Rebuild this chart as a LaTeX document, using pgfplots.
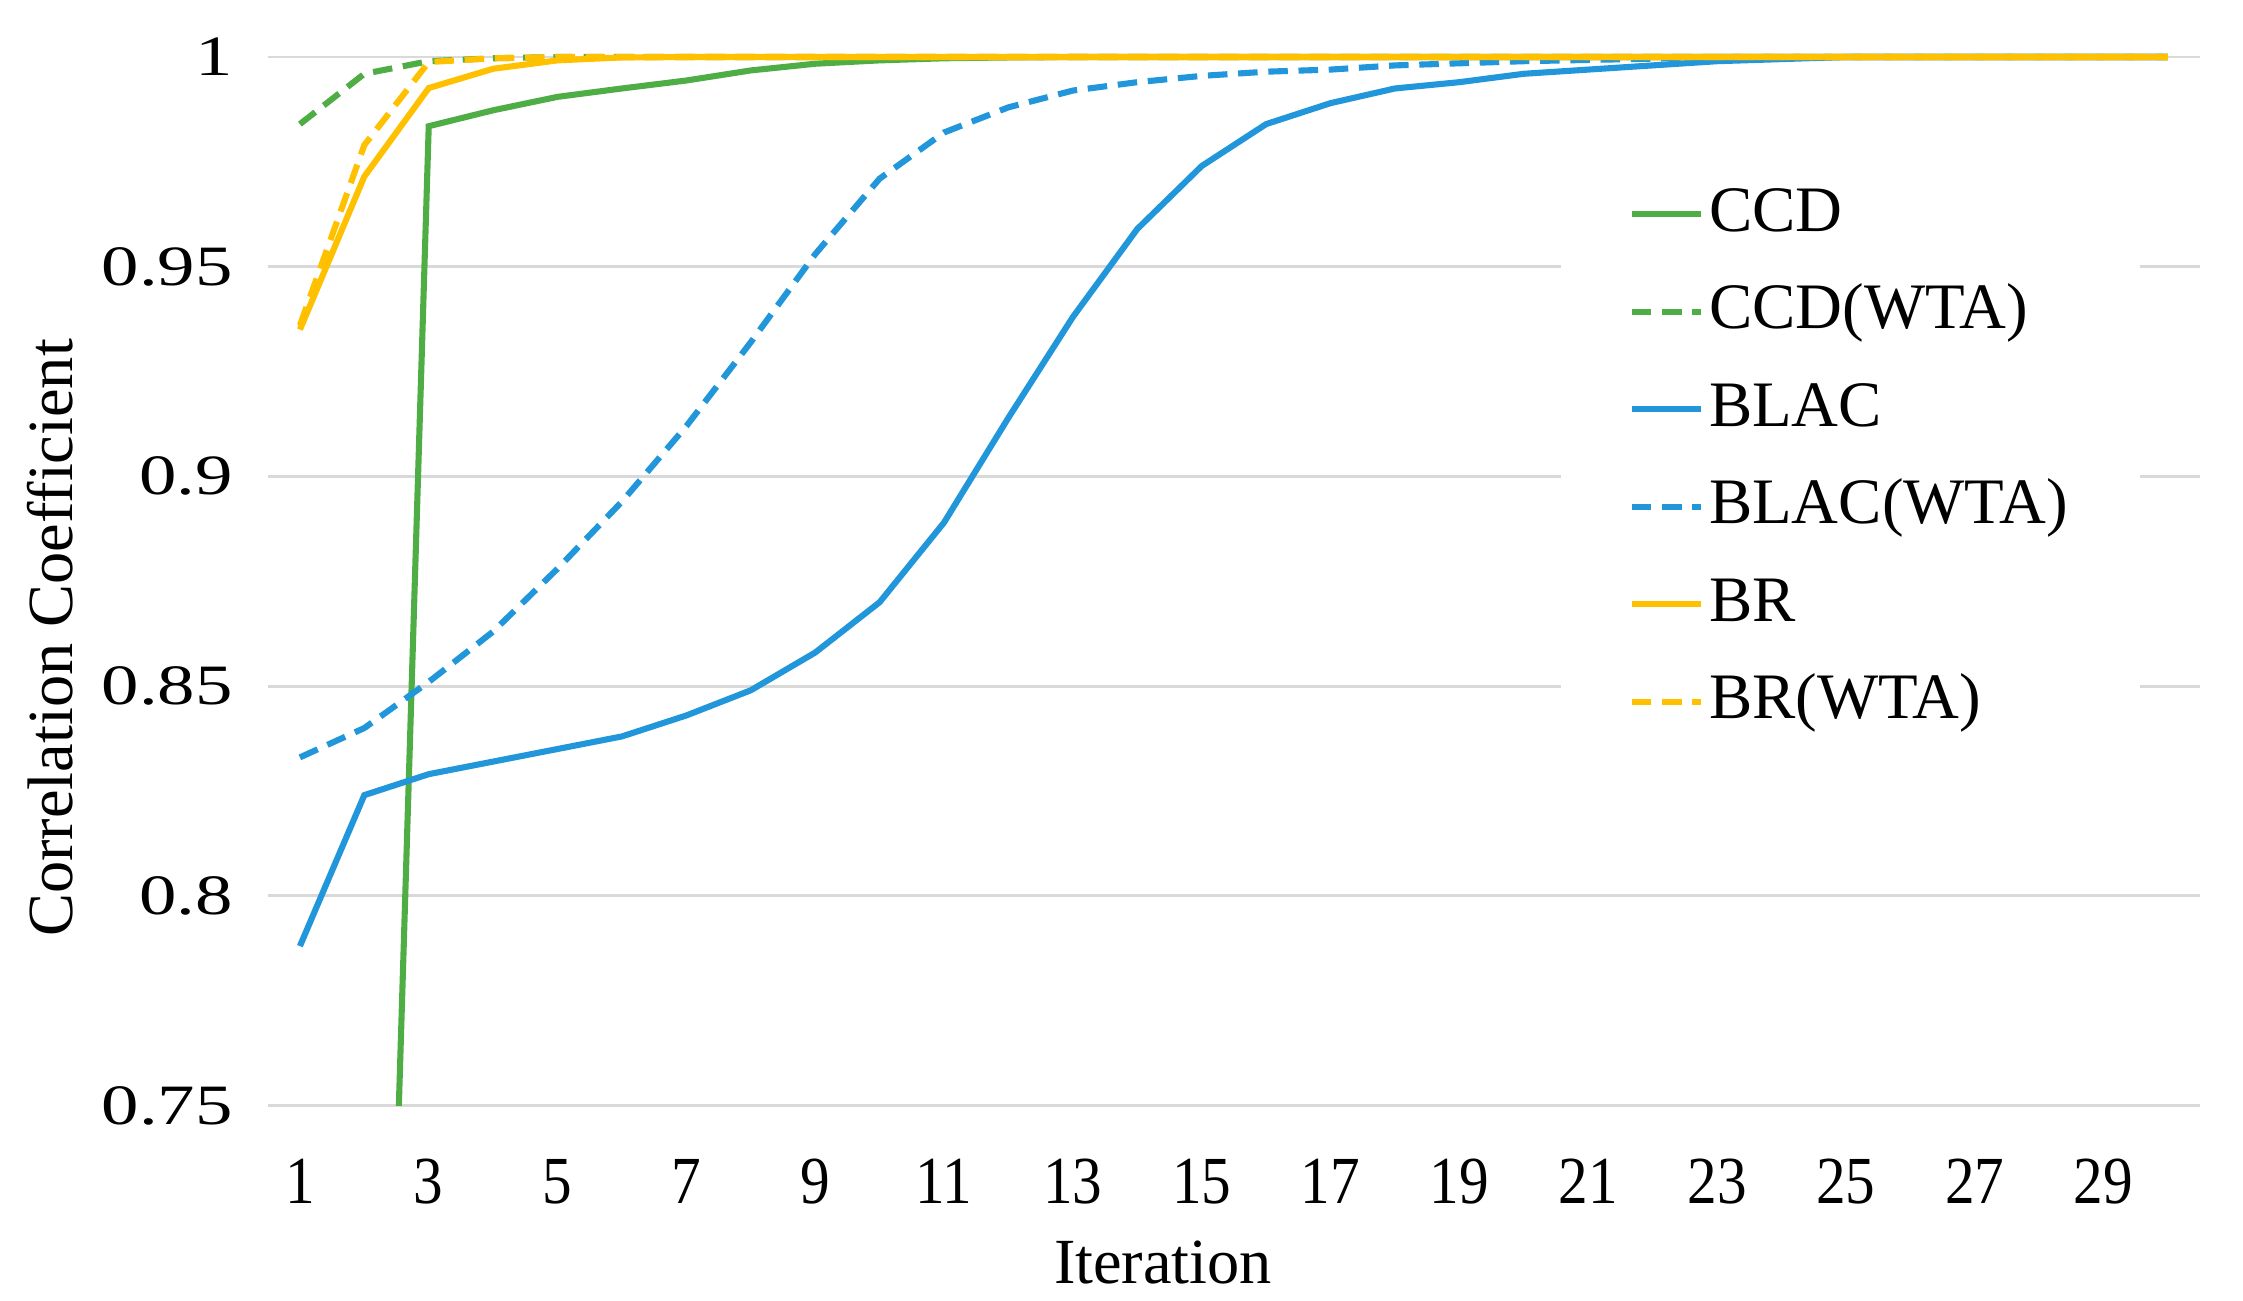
\documentclass[border=0pt]{standalone}
\usepackage{fontspec}
\setmainfont{Liberation Serif}
\usepackage{graphicx}
\usepackage{pgfplots}
\pgfplotsset{compat=1.18}
\definecolor{cgreen}{HTML}{4EAE45}
\definecolor{cblue}{HTML}{2196DA}
\definecolor{cyellow}{HTML}{FFC000}
\definecolor{cgrid}{HTML}{D9D9D9}

\pgfplotstableread{
x ccd ccdw blac blacw br brw
1 0.30 0.984 0.788 0.833 0.935 0.936
2 0.48 0.996 0.824 0.840 0.9715 0.979
3 0.9835 0.999 0.829 0.851 0.9926 0.9988
4 0.9873 0.9997 0.832 0.863 0.9972 0.9997
5 0.9905 1.0 0.835 0.878 0.9992 1.0
6 0.9925 1.0 0.838 0.894 0.9999 1.0
7 0.9944 1.0 0.843 0.912 1.0 1.0
8 0.9968 1.0 0.849 0.932 1.0 1.0
9 0.9984 1.0 0.858 0.953 1.0 1.0
10 0.9992 1.0 0.870 0.971 1.0 1.0
11 0.9997 1.0 0.889 0.982 1.0 1.0
12 0.9999 1.0 0.914 0.988 1.0 1.0
13 1.0 1.0 0.938 0.992 1.0 1.0
14 1.0 1.0 0.959 0.994 1.0 1.0
15 1.0 1.0 0.974 0.9955 1.0 1.0
16 1.0 1.0 0.984 0.9965 1.0 1.0
17 1.0 1.0 0.989 0.997 1.0 1.0
18 1.0 1.0 0.9925 0.998 1.0 1.0
19 1.0 1.0 0.994 0.9985 1.0 1.0
20 1.0 1.0 0.996 0.999 1.0 1.0
21 1.0 1.0 0.997 0.9993 1.0 1.0
22 1.0 1.0 0.998 0.9996 1.0 1.0
23 1.0 1.0 0.999 1.0 1.0 1.0
24 1.0 1.0 0.9995 1.0 1.0 1.0
25 1.0 1.0 1.0 1.0 1.0 1.0
26 1.0 1.0 1.0 1.0 1.0 1.0
27 1.0 1.0 1.0 1.0 1.0 1.0
28 1.0 1.0 1.0 1.0 1.0 1.0
29 1.0 1.0 1.0 1.0 1.0 1.0
30 1.0 1.0 1.0 1.0 1.0 1.0
}\datatable

\begin{document}
\begin{tikzpicture}
\begin{axis}[
  scale only axis,
  width=396.3pt, height=217.6pt,
  xmin=0.5, xmax=30.5, ymin=0.75, ymax=1.003,
  axis line style={draw=none},
  major tick length=0pt,
  xtick={1,3,...,29},
  ytick={0.75,0.8,0.85,0.9,0.95,1},
  ymajorgrids,
  grid style={cgrid, line width=0.6pt},
  /pgf/number format/assume math mode=true,
  xticklabel={\scalebox{0.88}[1]{\pgfmathprintnumber{\tick}}},
  yticklabel={\scalebox{1.18}[0.9]{\pgfmathprintnumber[fixed,precision=2]{\tick}}},
  xticklabel style={font=\fontsize{13.8}{15}\selectfont, anchor=base, inner sep=0pt, yshift=-20.2pt},
  yticklabel style={font=\fontsize{13}{15}\selectfont, anchor=east, inner sep=0pt, xshift=-7pt},
  xlabel={Iteration},
  ylabel={Correlation Coefficient},
  xlabel style={at={([yshift=-32.3pt]axis cs:14.4,0.75)}, anchor=center, font=\fontsize{13.2}{15}\selectfont},
  ylabel style={at={([xshift=-44.6pt]axis cs:0.5,0.8615)}, anchor=center, font=\fontsize{13.2}{15}\selectfont},
  legend cell align=left,
  legend image code/.code={\draw[#1] (0cm,0cm) -- (0.5cm,0cm);},
  legend style={at={(rel axis cs:0.669,0.8937)}, anchor=north west, draw=none, fill=white,
    inner xsep=13.8pt, inner ysep=4pt, font=\fontsize{13.3}{15}\selectfont,
    row sep=5pt, nodes={inner sep=1pt, text height=10pt, text depth=3pt}},
]
\addplot[cgreen, line width=1.25pt] table[x=x,y=ccd]{\datatable};
\addlegendentry{CCD}
\addplot[cgreen, line width=1.25pt, dash pattern=on 4pt off 2.2pt] table[x=x,y=ccdw]{\datatable};
\addlegendentry{CCD(WTA)}
\addplot[cblue, line width=1.25pt] table[x=x,y=blac]{\datatable};
\addlegendentry{BLAC}
\addplot[cblue, line width=1.25pt, dash pattern=on 4pt off 2.2pt] table[x=x,y=blacw]{\datatable};
\addlegendentry{BLAC(WTA)}
\addplot[cyellow, line width=1.25pt] table[x=x,y=br]{\datatable};
\addlegendentry{BR}
\addplot[cyellow, line width=1.25pt, dash pattern=on 4pt off 2.2pt] table[x=x,y=brw]{\datatable};
\addlegendentry{BR(WTA)}
\coordinate (bl) at (axis cs:0.5,0.75);
\coordinate (tr) at (axis cs:30.5,1);
\end{axis}
\path ([shift={(-54.9pt,-39.9pt)}]bl) rectangle ([shift={(8.8pt,11.7pt)}]tr);
\end{tikzpicture}
\end{document}
